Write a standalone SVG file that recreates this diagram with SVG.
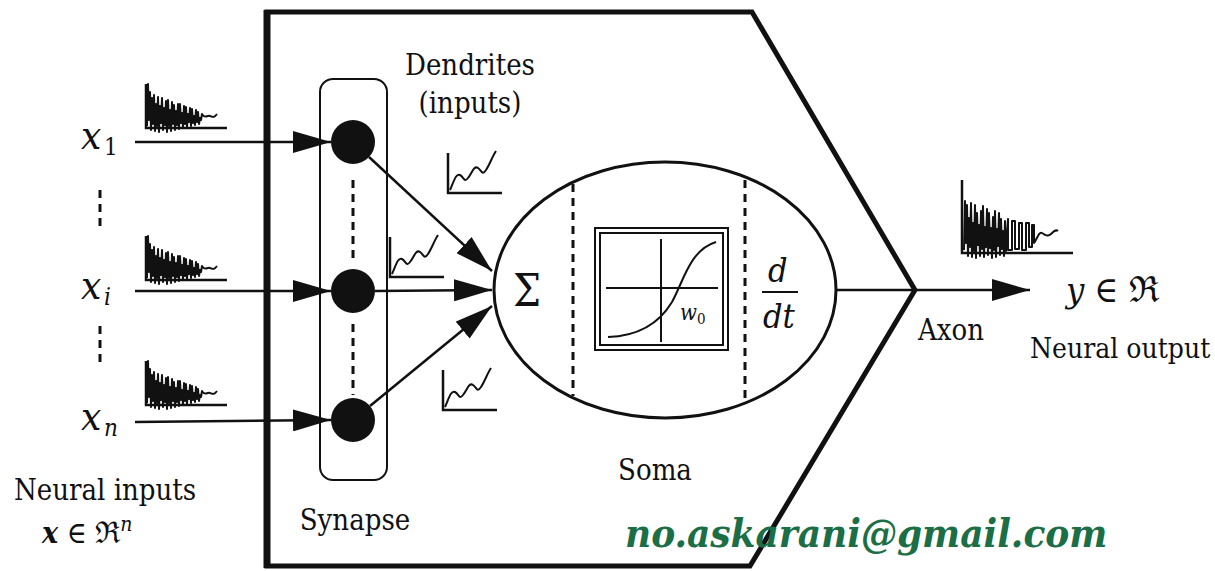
<svg xmlns="http://www.w3.org/2000/svg" xmlns:xlink="http://www.w3.org/1999/xlink" width="1215" height="571" viewBox="0 0 1215 571">
<style>
text{font-family:"DejaVu Serif Condensed","DejaVu Serif","Liberation Serif",serif;}
.t{fill:#111;}
.m{font-style:italic;fill:#111;}
.ln{stroke:#111;stroke-width:2.5;fill:none;}
.sig{stroke:#111;stroke-width:2;fill:none;stroke-linejoin:round;}
.ax{stroke:#111;stroke-width:2.5;fill:none;}
.dash{stroke:#111;stroke-width:3;stroke-dasharray:8 6;fill:none;}
</style>
<defs>
<marker id="ah" markerWidth="38" markerHeight="22" refX="38" refY="11" orient="auto" markerUnits="userSpaceOnUse"><path d="M0,0 L38,11 L0,22 z" fill="#111"/></marker>
<g id="wave">
<path class="ax" d="M0,-44 V0 H81"/>
<path class="sig" d="M1,-2 L2,-44 L3,-8 L4,-36 L5,2 L6,-30 L7,-4 L8,-33 L9,3 L10,-24 L11,-2 L12,-31 L13,4 L14,-22 L15,-5 L16,-30 L17,2 L18,-20 L19,-3 L20,-27 L21,4 L22,-28 L23,-2 L24,-18 L25,3 L26,-26 L27,-4 L28,-23 L29,2 L30,-17 L31,-3 L32,-24 L33,1 L34,-24 L35,-5 L36,-15 L37,0 L38,-22 L39,-4 L40,-21 L41,-1 L42,-14 L43,-6 L44,-20 L45,-2 L46,-19 L47,-5 L48,-12 L49,-3 L50,-18 L51,-6 L52,-16 L53,-4 L54,-10 L55,-8 L56,-14 C59,-9 61,-13 64,-12 S68,-10 71,-14"/>
</g>
<g id="dg">
<path class="ax" d="M0,-40 V0 H54"/>
<path class="sig" d="M2,-3 C6,-12 8,-20 12,-18 S16,-10 20,-15 S26,-28 30,-25 S34,-17 38,-23 S44,-36 48,-42"/>
</g>
</defs>

<g id="frame">
<path d="M267,12 H752 L915,290 L750,566 H267 Z" fill="none" stroke="#111" stroke-width="5"/>
<line x1="267" y1="10" x2="267" y2="568" stroke="#111" stroke-width="7"/>
</g>

<g id="inputs">
<text class="m" x="81" y="149" font-size="40">x</text><text class="t" x="104" y="155" font-size="24">1</text>
<text class="m" x="81" y="299" font-size="40">x</text><text class="m" x="104" y="305" font-size="24">i</text>
<text class="m" x="81" y="430" font-size="40">x</text><text class="m" x="104" y="436" font-size="24">n</text>
<line class="dash" x1="100" y1="190" x2="100" y2="228"/>
<line class="dash" x1="100" y1="326" x2="100" y2="368"/>
<use xlink:href="#wave" href="#wave" transform="translate(146,128)"/>
<use xlink:href="#wave" href="#wave" transform="translate(146,280)"/>
<use xlink:href="#wave" href="#wave" transform="translate(146,405)"/>
<text class="t" x="14" y="500" font-size="29">Neural inputs</text>
<text class="t" x="42" y="543" font-size="30"><tspan font-weight="bold" font-style="italic">x</tspan> ∈ ℜ<tspan font-style="italic" font-size="21" dy="-12">n</tspan></text>
</g>

<g id="synapse">
<rect x="320" y="79" width="67" height="401" rx="13" fill="none" stroke="#111" stroke-width="2"/>
<circle cx="353" cy="142" r="22" fill="#111"/>
<circle cx="353" cy="291" r="22" fill="#111"/>
<circle cx="353" cy="420" r="22" fill="#111"/>
<line class="dash" x1="353" y1="180" x2="353" y2="262"/>
<line class="dash" x1="353" y1="324" x2="353" y2="395"/>
<text class="t" x="355" y="530" font-size="29" text-anchor="middle">Synapse</text>
</g>

<g id="dendrites">
<text class="t" x="470" y="75" font-size="29" text-anchor="middle">Dendrites</text>
<text class="t" x="470" y="113" font-size="29" text-anchor="middle">(inputs)</text>
<use xlink:href="#dg" href="#dg" transform="translate(448,193)"/>
<use xlink:href="#dg" href="#dg" transform="translate(390,277)"/>
<use xlink:href="#dg" href="#dg" transform="translate(443,410)"/>
</g>

<g id="soma">
<ellipse cx="665" cy="290" rx="171" ry="128" fill="none" stroke="#111" stroke-width="3"/>
<line class="dash" x1="573" y1="184" x2="573" y2="396" stroke-width="2" stroke-dasharray="7 5"/>
<line class="dash" x1="745" y1="180" x2="745" y2="400" stroke-width="2" stroke-dasharray="7 5"/>
<text class="t" x="513" y="306" font-size="44">Σ</text>
<rect x="595" y="228" width="133" height="122" fill="none" stroke="#111" stroke-width="2"/>
<rect x="600" y="233" width="123" height="112" fill="none" stroke="#111" stroke-width="2"/>
<line x1="606" y1="288" x2="718" y2="288" stroke="#111" stroke-width="2"/>
<line x1="661" y1="239" x2="661" y2="342" stroke="#111" stroke-width="2"/>
<path d="M608,337 C640,336 660,322 672,302 C684,280 690,250 716,242" fill="none" stroke="#111" stroke-width="2"/>
<text class="m" x="680" y="320" font-size="22">w<tspan font-style="normal" font-size="15" dy="4">0</tspan></text>
<text class="m" x="768" y="282" font-size="34">d</text>
<line x1="762" y1="292" x2="798" y2="292" stroke="#111" stroke-width="2"/>
<text class="m" x="763" y="328" font-size="34">dt</text>
<text class="t" x="655" y="480" font-size="29" text-anchor="middle">Soma</text>
</g>

<g id="output">
<path class="ax" d="M962,180 V253 H1073"/>
<path class="sig" transform="translate(962,253)" d="M2,-3 L3,-52 L4,-10 L5,-48 L6,3 L7,-35 L8,-6 L9,-50 L10,4 L11,-30 L12,-2 L13,-48 L14,5 L15,-40 L16,-8 L17,-28 L18,3 L19,-42 L20,-4 L21,-47 L22,4 L23,-26 L24,-6 L25,-44 L26,2 L27,-40 L28,-5 L29,-25 L30,5 L31,-36 L32,-3 L33,-42 L34,4 L35,-24 L36,-7 L37,-40 L38,2 L39,-34 L40,-4 L41,-22 L42,3 L43,-32 L44,-2 L46,-34 V-3 H50 V-32 H53 V-4 H57 V-30 H60 V-3 H64 V-30 H67 V-6 H70 V-28 H72 V-10 C75,-14 77,-22 80,-20 S86,-16 89,-19 S94,-24 96,-22"/>
<text class="t" x="918" y="340" font-size="29">Axon</text>
<text class="t" x="1066" y="302" font-size="36"><tspan font-style="italic">y</tspan> ∈ ℜ</text>
<text class="t" x="1030" y="358" font-size="28">Neural output</text>
</g>

<g id="connectors">
<line class="ln" x1="135" y1="142" x2="331" y2="142" marker-end="url(#ah)"/>
<line class="ln" x1="135" y1="291" x2="331" y2="291" marker-end="url(#ah)"/>
<line class="ln" x1="135" y1="422" x2="331" y2="420" marker-end="url(#ah)"/>
<line class="ln" x1="369" y1="157" x2="492" y2="271" marker-end="url(#ah)"/>
<line class="ln" x1="375" y1="291" x2="492" y2="290" marker-end="url(#ah)"/>
<line class="ln" x1="370" y1="406" x2="492" y2="306" marker-end="url(#ah)"/>
<line class="ln" x1="836" y1="290" x2="1030" y2="290" marker-end="url(#ah)"/>
</g>

<text x="625" y="547" font-size="40" font-weight="bold" font-style="italic" fill="#1b6e45">no.askarani@gmail.com</text>
</svg>
